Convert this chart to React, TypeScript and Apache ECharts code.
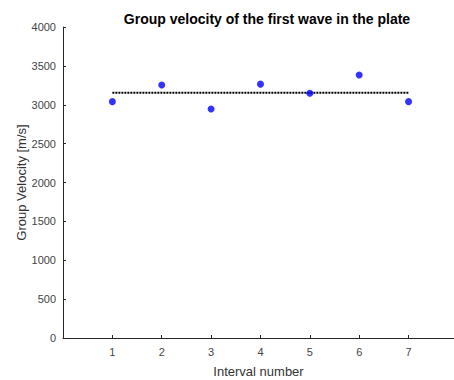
import React, { useEffect, useRef } from "react";
import * as echarts from "echarts";

const intervals = [1, 2, 3, 4, 5, 6, 7];
const velocities = [3040, 3255, 2945, 3265, 3148, 3382, 3040];
const meanVelocity = 3155;
const titleText = "Group velocity of the first wave in the plate";
const xName = "Interval number";
const yName = "Group Velocity [m/s]";

export default function App() {
  const ref = useRef<HTMLDivElement>(null);
  useEffect(() => {
    if (!ref.current) return;
    const chart = echarts.init(ref.current, null, { renderer: "svg" });
    const font = "'Liberation Sans', Arial, Helvetica, sans-serif";
    const axisColor = "#262626";
    chart.setOption({
      animation: false,
      backgroundColor: "#ffffff",
      title: {
        text: titleText,
        left: 262,
        top: 7,
        textAlign: "center",
        textStyle: { fontFamily: font, fontSize: 14, fontWeight: "bold", color: "#000" },
      },
      grid: {
        left: 63,
        top: 27,
        right: 0,
        height: 311,
        containLabel: false,
        outerBoundsMode: "none",
      },
      xAxis: {
        type: "value",
        min: 0,
        max: 7.92,
        interval: 1,
        name: xName,
        nameLocation: "middle",
        nameGap: 27,
        nameMoveOverlap: false,
        nameTextStyle: { fontFamily: font, fontSize: 13, color: "#333" },
        axisLine: { show: true, lineStyle: { color: axisColor, width: 1 } },
        axisTick: { show: true, inside: true, length: 3, lineStyle: { color: axisColor } },
        axisLabel: {
          fontFamily: font,
          fontSize: 11,
          color: "#444",
          margin: 8,
          showMinLabel: false,
          showMaxLabel: false,
        },
        splitLine: { show: false },
      },
      yAxis: {
        type: "value",
        min: 0,
        max: 4000,
        interval: 500,
        name: yName,
        nameLocation: "middle",
        nameGap: 35,
        nameMoveOverlap: false,
        nameTextStyle: { fontFamily: font, fontSize: 13, color: "#333" },
        axisLine: { show: true, lineStyle: { color: axisColor, width: 1 } },
        axisTick: { show: true, inside: true, length: 3, lineStyle: { color: axisColor } },
        axisLabel: {
          fontFamily: font,
          fontSize: 11,
          color: "#444",
          margin: 7,
          formatter: (v: number) => String(v),
        },
        splitLine: { show: false },
      },
      series: [
        {
          type: "line",
          data: [
            [intervals[0], meanVelocity],
            [intervals[intervals.length - 1], meanVelocity],
          ],
          symbol: "none",
          lineStyle: { color: "#000", width: 2, type: [2, 1] },
          z: 1,
        },
        {
          type: "scatter",
          data: intervals.map((x, i) => [x, velocities[i]]),
          symbol: "circle",
          symbolSize: 7,
          itemStyle: { color: "#0000ff" },
          z: 2,
        },
      ],
    });
    return () => chart.dispose();
  }, []);
  return <div ref={ref} style={{ width: 454, height: 380, position: "absolute", left: 0, top: 0 }} />;
}
